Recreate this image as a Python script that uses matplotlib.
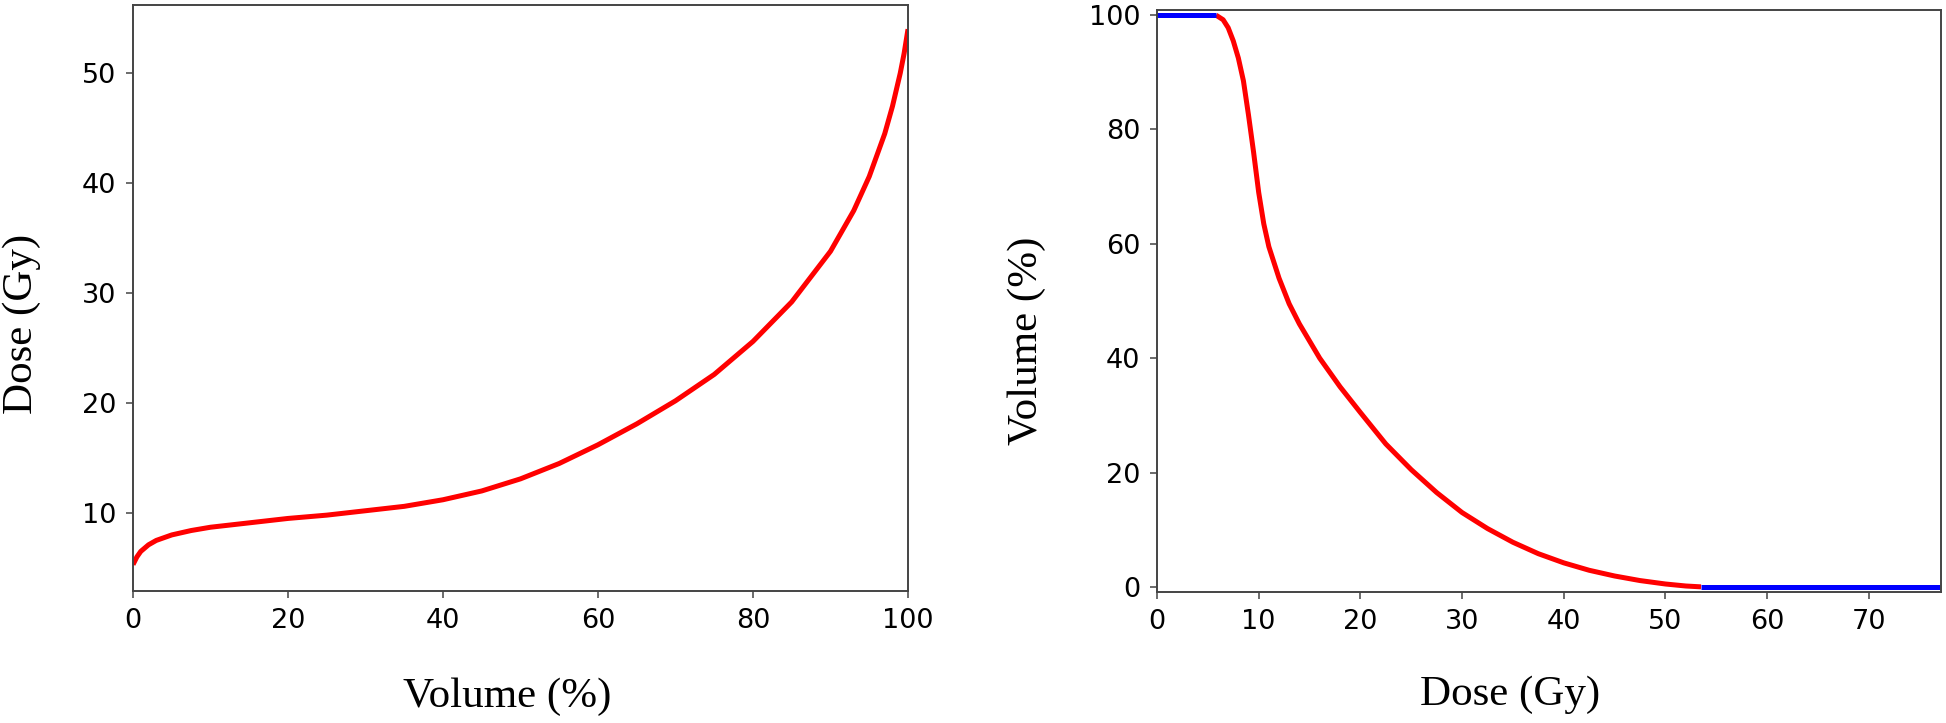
import numpy as np
import matplotlib.pyplot as plt

# left panel: dose vs volume (inverse cumulative)
vol_pct = [0, 0.5, 1, 2, 3, 5, 7.5, 10, 15, 20, 25, 30, 35, 40, 45, 50, 55, 60,
           65, 70, 75, 80, 85, 90, 93, 95, 97, 98, 99, 99.5, 100]
dose_gy = [5.3, 6.0, 6.5, 7.1, 7.5, 8.0, 8.4, 8.7, 9.1, 9.5, 9.8, 10.2, 10.6, 11.2, 12.0, 13.1, 14.5, 16.2,
           18.1, 20.2, 22.6, 25.6, 29.2, 33.8, 37.5, 40.6, 44.5, 47.0, 50.0, 51.8, 54.0]

# right panel: DVH, red part
dvh_dose = [5.8, 6.5, 7, 7.5, 8, 8.5, 9, 9.5, 10, 10.5, 11, 12, 13, 14, 15, 16, 17, 18,
            20, 22.5, 25, 27.5, 30, 32.5, 35, 37.5, 40, 42.5, 45, 47.5, 50, 52, 53.5]
dvh_vol = [100, 99.2, 97.8, 95.5, 92.5, 88.5, 82.5, 76, 69, 63.5, 59.5, 54, 49.5, 46, 43, 40, 37.5, 35,
           30.5, 25, 20.5, 16.5, 13, 10.2, 7.8, 5.8, 4.2, 2.9, 1.9, 1.1, 0.5, 0.15, 0]
# blue flat parts
blue_lo_dose = [0, 5.8]
blue_lo_vol = [100, 100]
blue_hi_dose = [53.5, 77]
blue_hi_vol = [0, 0]

fig = plt.figure(figsize=(19.46, 7.23), dpi=100)
ax1 = fig.add_axes([133/1946, 1 - 591/723, 775/1946, 586/723])
ax2 = fig.add_axes([1157/1946, 1 - 592/723, 784/1946, 582/723])

lw = 3.6
ax1.plot(vol_pct, dose_gy, color='red', lw=lw, solid_capstyle='butt')
ax1.set_xlim(0, 100)
ax1.set_ylim(2.9, 56.2)
ax1.set_xticks([0, 20, 40, 60, 80, 100])
ax1.set_yticks([10, 20, 30, 40, 50])

ax2.plot(dvh_dose, dvh_vol, color='red', lw=lw, solid_capstyle='butt')
ax2.plot(blue_lo_dose, blue_lo_vol, color='blue', lw=lw, solid_capstyle='butt')
ax2.plot(blue_hi_dose, blue_hi_vol, color='blue', lw=lw, solid_capstyle='butt')
ax2.set_xlim(0, 77.1)
ax2.set_ylim(-0.9, 100.9)
ax2.set_xticks([0, 10, 20, 30, 40, 50, 60, 70])
ax2.set_yticks([0, 20, 40, 60, 80, 100])

serif = 'Liberation Serif'
for ax in (ax1, ax2):
    for s in ax.spines.values():
        s.set_color('#444444')
        s.set_linewidth(1.4)
    ax.tick_params(labelsize=19.5, length=5, width=1.1, pad=7, color='#444444')

ax1.set_xlabel('Volume (%)', fontsize=31, family=serif, va='center')
ax1.xaxis.set_label_coords(0.483, -0.181)
ax1.set_ylabel('Dose (Gy)', fontsize=31, family=serif, va='center')
ax1.yaxis.set_label_coords(-0.143, 0.456)

ax2.set_xlabel('Dose (Gy)', fontsize=31, family=serif, va='center')
ax2.xaxis.set_label_coords(0.450, -0.177)
ax2.set_ylabel('Volume (%)', fontsize=31, family=serif, va='center')
ax2.yaxis.set_label_coords(-0.166, 0.431)

fig.savefig('out.png', dpi=100)
